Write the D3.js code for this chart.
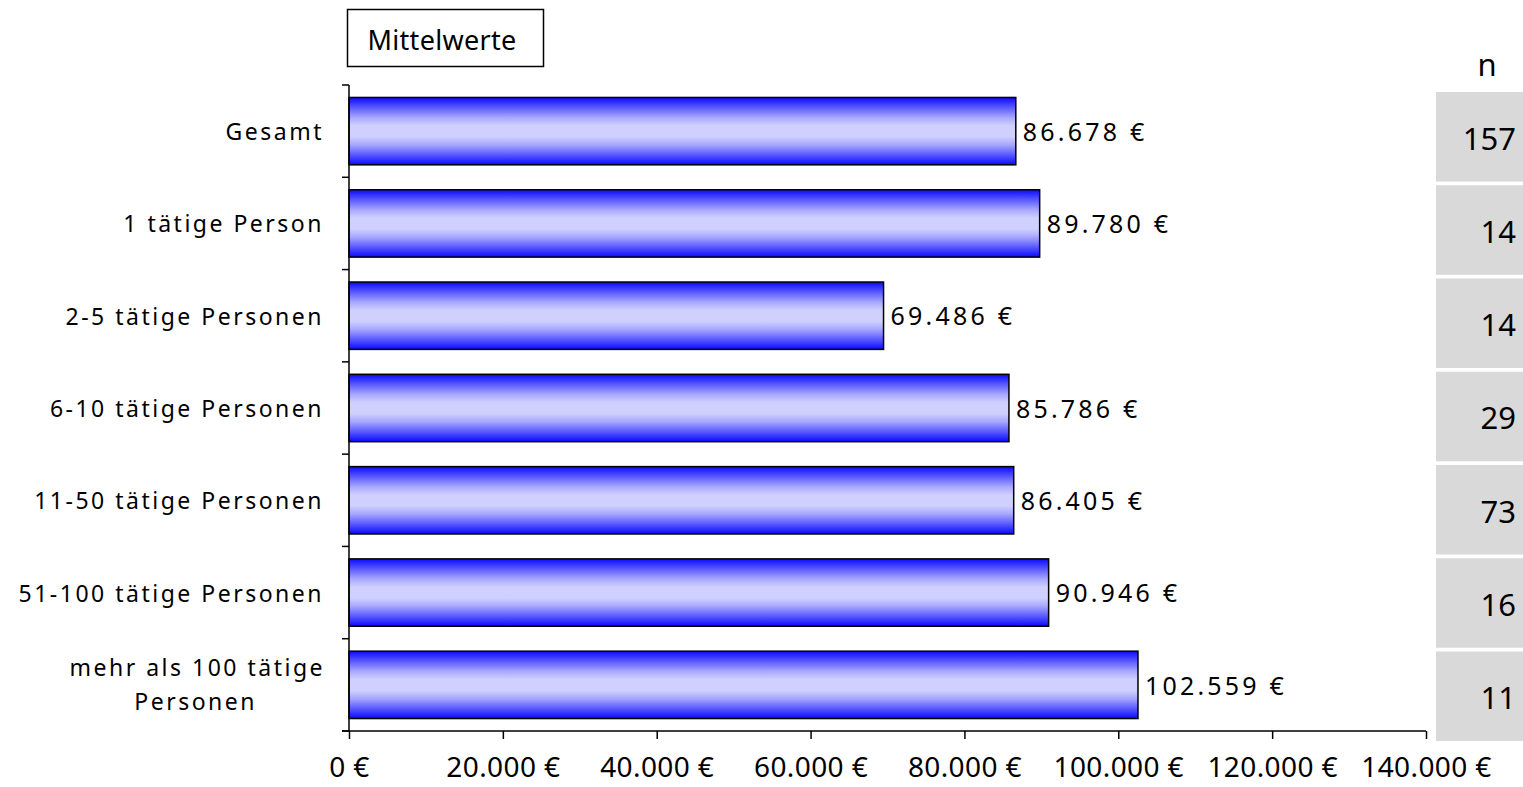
<!DOCTYPE html>
<html><head><meta charset="utf-8">
<script src="https://cdn.jsdelivr.net/npm/d3@7"></script>
<style>
html,body{margin:0;padding:0;background:#fff;}
svg{display:block;font-family:"Noto Sans","DejaVu Sans",sans-serif;}
</style></head>
<body>
<svg id="c" width="1523" height="787"></svg>
<script>
const categories = ["Gesamt","1 tätige Person","2-5 tätige Personen","6-10 tätige Personen","11-50 tätige Personen","51-100 tätige Personen","mehr als 100 tätige Personen"];
const values = [86678, 89780, 69486, 85786, 86405, 90946, 102559];
const nValues = [157, 14, 14, 29, 73, 16, 11];
const tickValues = [0, 20000, 40000, 60000, 80000, 100000, 120000, 140000];
const title = "Mittelwerte";

const svg = d3.select("#c");
const fmt = v => d3.format(",")(v).replace(/,/g, ".") + " €";

const x = d3.scaleLinear().domain([0, 140000]).range([349, 1426]);
const y = d3.scaleBand().domain(categories).range([85, 731]).paddingInner(0.27).paddingOuter(0.135);

const defs = svg.append("defs");
const g = defs.append("linearGradient").attr("id","bg").attr("x1",0).attr("y1",0).attr("x2",0).attr("y2",1);
[[0,"#0a0aff"],[0.12,"#4a4aff"],[0.3,"#a8a8ff"],[0.42,"#d0d0ff"],[0.58,"#d0d0ff"],[0.7,"#a8a8ff"],[0.88,"#4a4aff"],[1,"#0a0aff"]]
  .forEach(([o,c]) => g.append("stop").attr("offset", o).attr("stop-color", c));

// title box
svg.append("rect").attr("x",347.5).attr("y",9.5).attr("width",196).attr("height",57)
  .attr("fill","#fff").attr("stroke","#000").attr("stroke-width",1.5);
svg.append("text").attr("x",442).attr("y",50).attr("text-anchor","middle")
  .attr("font-size",27).attr("letter-spacing",0.3).attr("fill","#000").text(title);

// bars
svg.selectAll("rect.bar").data(values).enter().append("rect").attr("class","bar")
  .attr("x", x(0)).attr("y", (d,i) => y(categories[i]))
  .attr("width", d => x(d) - x(0)).attr("height", y.bandwidth())
  .attr("fill","url(#bg)").attr("stroke","#000").attr("stroke-width",1.5);

// value labels
svg.selectAll("text.val").data(values).enter().append("text").attr("class","val")
  .attr("x", d => x(d) + 7).attr("y", (d,i) => y(categories[i]) + y.bandwidth()/2 + 1)
  .attr("dy","0.35em").attr("font-size",25).attr("letter-spacing",3.2).attr("fill","#000")
  .text(fmt);

// y axis
const yAxisG = svg.append("g");
yAxisG.append("line").attr("x1",349).attr("x2",349).attr("y1",85).attr("y2",731).attr("stroke","#000").attr("stroke-width",1.5);
const yTicks = d3.range(categories.length + 1).map(i => y.range()[0] + i * (y.range()[1]-y.range()[0]) / categories.length);
yAxisG.selectAll("line.t").data(yTicks).enter().append("line")
  .attr("x1",342).attr("x2",349).attr("y1",d=>d).attr("y2",d=>d).attr("stroke","#000").attr("stroke-width",1.5);

// category labels
categories.forEach((c,i) => {
  const cy = y(c) + y.bandwidth()/2;
  const t = svg.append("text").attr("x",324).attr("text-anchor","end")
    .attr("font-size",23).attr("letter-spacing",2.5).attr("fill","#000");
  if (c === "mehr als 100 tätige Personen") {
    t.append("tspan").attr("x",325).attr("y",cy - 9).text("mehr als 100 tätige");
    t.append("tspan").attr("x",257).attr("y",cy + 25).text("Personen");
  } else {
    t.attr("y", cy + 1).attr("dy","0.35em").text(c);
  }
});

// x axis
const xAxis = d3.axisBottom(x).tickValues(tickValues).tickSize(8).tickSizeOuter(0).tickFormat(fmt).tickPadding(18);
const xg = svg.append("g").attr("transform","translate(0,731)").call(xAxis);
xg.select(".domain").attr("stroke","#000").attr("stroke-width",1.5).attr("d","M342,0H1426");
xg.selectAll(".tick line").attr("stroke","#000").attr("stroke-width",1.5);
xg.selectAll(".tick text").attr("font-size",28).attr("letter-spacing",0.4).attr("fill","#000").attr("font-family","'Noto Sans','DejaVu Sans',sans-serif");

// n panel
svg.append("text").attr("x",1487).attr("y",76).attr("text-anchor","middle").attr("font-size",31).attr("fill","#000").text("n");
const ny = d3.scaleBand().domain(d3.range(nValues.length)).range([92, 741]).paddingInner(0.04);
svg.selectAll("rect.ncell").data(nValues).enter().append("rect")
  .attr("x",1436).attr("width",90).attr("y",(d,i)=>ny(i)).attr("height",ny.bandwidth()).attr("fill","#d9d9d9");
svg.selectAll("text.n").data(nValues).enter().append("text")
  .attr("x",1516).attr("text-anchor","end").attr("y",(d,i)=>ny(i)+ny.bandwidth()/2 + 2).attr("dy","0.35em")
  .attr("font-size",31).attr("fill","#000").text(d=>d);
</script>
</body></html>
